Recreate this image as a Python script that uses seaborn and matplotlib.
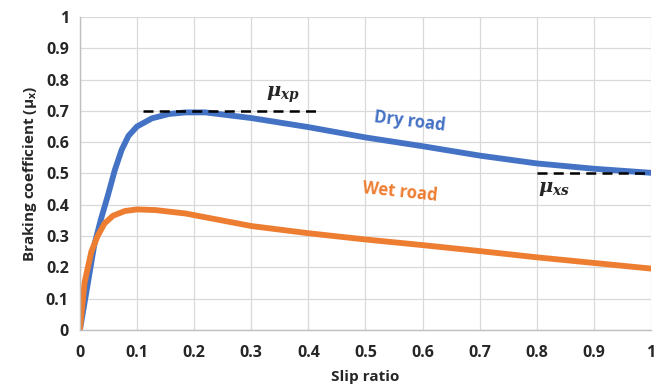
import matplotlib
matplotlib.use("Agg")
import matplotlib.pyplot as plt
import seaborn as sns
import pandas as pd

# slip ratio sample points and braking coefficients
slip_dry = [0, 0.014, 0.025, 0.037, 0.049, 0.061, 0.073, 0.085, 0.1, 0.126, 0.156,
            0.185, 0.22, 0.3, 0.4, 0.5, 0.6, 0.7, 0.8, 0.9, 1.0]
mu_dry = [0, 0.15, 0.27, 0.355, 0.43, 0.51, 0.575, 0.62, 0.65, 0.676, 0.69,
          0.695, 0.695, 0.677, 0.648, 0.615, 0.587, 0.557, 0.532, 0.515, 0.502]
slip_wet = [0, 0.008, 0.02, 0.031, 0.043, 0.058, 0.079, 0.1, 0.132, 0.185, 0.3,
            0.4, 0.5, 0.6, 0.7, 0.8, 0.9, 1.0]
mu_wet = [0, 0.15, 0.25, 0.30, 0.34, 0.365, 0.38, 0.385, 0.383, 0.372, 0.332,
          0.309, 0.289, 0.271, 0.252, 0.232, 0.214, 0.196]
ticks = [0, 0.1, 0.2, 0.3, 0.4, 0.5, 0.6, 0.7, 0.8, 0.9, 1]
tick_labels = ['0', '0.1', '0.2', '0.3', '0.4', '0.5', '0.6', '0.7', '0.8', '0.9', '1']
peak_mu, peak_span = 0.7, (0.11, 0.416)
slide_mu, slide_span = 0.5, (0.8, 1.0)

df = pd.concat([
    pd.DataFrame({'slip': slip_dry, 'mu': mu_dry, 'road': 'Dry road'}),
    pd.DataFrame({'slip': slip_wet, 'mu': mu_wet, 'road': 'Wet road'}),
])

sns.set_theme(style="white")
plt.rcParams['font.family'] = ['Open Sans', 'DejaVu Sans']
plt.rcParams['mathtext.fontset'] = 'dejavuserif'

blue, orange = '#4472C4', '#ED7D31'

fig = plt.figure(figsize=(6.55, 3.85), dpi=100)
ax = fig.add_axes([0.122, 0.143, 0.872, 0.813])

sns.lineplot(data=df, x='slip', y='mu', hue='road', palette=[blue, orange],
             linewidth=4.2, legend=False, ax=ax, sort=False)

ax.plot(peak_span, [peak_mu, peak_mu], ls=(0, (4, 2.5)), color='black', lw=1.8)
ax.plot(slide_span, [slide_mu, slide_mu], ls=(0, (4, 2.5)), color='black', lw=1.8)

ax.text(0.355, 0.75, r'$\mathbfit{\mu}_{\mathbfit{xp}}$', fontsize=14, ha='center', va='center')
ax.text(0.83, 0.45, r'$\mathbfit{\mu}_{\mathbfit{xs}}$', fontsize=14, ha='center', va='center')
ax.text(0.578, 0.667, 'Dry road', color=blue, fontsize=12, fontweight='bold',
        rotation=-7, ha='center', va='center')
ax.text(0.56, 0.44, 'Wet road', color=orange, fontsize=12, fontweight='bold',
        rotation=-6, ha='center', va='center')

ax.set_xlim(0, 1)
ax.set_ylim(0, 1)
ax.set_xticks(ticks)
ax.set_xticklabels(tick_labels)
ax.set_yticks(ticks)
ax.set_yticklabels(tick_labels)
ax.tick_params(axis='y', length=0, labelsize=11.5, pad=8)
ax.tick_params(axis='x', length=0, labelsize=11.5, pad=11)
for lab in ax.get_xticklabels() + ax.get_yticklabels():
    lab.set_fontweight('bold')
ax.grid(True, color='#d9d9d9', lw=0.9)
ax.set_axisbelow(True)
for s in ['top', 'right']:
    ax.spines[s].set_visible(False)
for s in ['left', 'bottom']:
    ax.spines[s].set_color('#bfbfbf')
    ax.spines[s].set_linewidth(1)

ax.set_xlabel('Slip ratio', fontsize=11, fontweight='bold', labelpad=6)
ax.set_ylabel(r'Braking coefficient $\mathregular{(\mu_x)}$', fontsize=11,
              fontweight='bold', labelpad=5)

fig.savefig('out.png', dpi=100)
